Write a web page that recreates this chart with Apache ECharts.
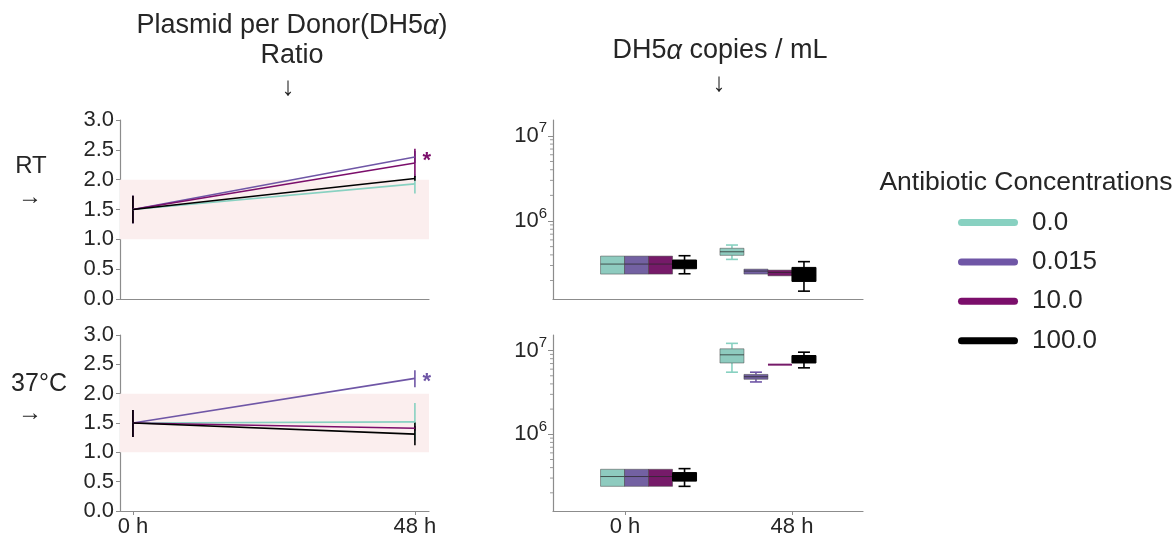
<!DOCTYPE html>
<html><head><meta charset="utf-8">
<script src="https://cdn.jsdelivr.net/npm/echarts@6/dist/echarts.min.js"></script>
<style>html,body{margin:0;padding:0;background:#fff}#c{width:1174px;height:538px}</style>
</head><body><div id="c"></div>
<script>
// ---------- data ----------
const hues = ['0.0', '0.015', '10.0', '100.0'];
const hueColors = ['#88d1c1', '#6f56a6', '#7b0e6b', '#000000'];
const boxFills = ['#8ecbbf', '#7361a2', '#761a69', '#000000'];
const timeHours = [0, 48];
const timeLabels = ['0 h', '48 h'];
const ratioTicks = [0, 0.5, 1, 1.5, 2, 2.5, 3];
const logMajorTicks = [1e6, 1e7];
const logMinorTicks = [2e5, 3e5, 4e5, 5e5, 6e5, 7e5, 8e5, 9e5, 2e6, 3e6, 4e6, 5e6, 6e6, 7e6, 8e6, 9e6];

// ratio means [0 h, 48 h] per hue
const rtMean  = [[1.5, 1.93], [1.5, 2.38], [1.5, 2.28], [1.5, 2.02]];
const rtLow   = [[1.27, 1.77], [1.27, 2.28], [1.27, 2.04], [1.27, 1.98]];
const rtHigh  = [[1.73, 2.09], [1.73, 2.48], [1.73, 2.52], [1.73, 2.06]];
const hotMean = [[1.5, 1.52], [1.5, 2.26], [1.5, 1.41], [1.5, 1.31]];
const hotLow  = [[1.26, 1.20], [1.26, 2.11], [1.26, 1.37], [1.26, 1.12]];
const hotHigh = [[1.72, 1.84], [1.72, 2.40], [1.72, 1.45], [1.72, 1.51]];
const rtStars  = [[48, 2.38, 2]];
const hotStars = [[48, 2.26, 1]];

// copies/mL boxes [min, q1, median, q3, max] per hue
const rtBox0h  = [[2.38e5, 2.38e5, 3.12e5, 3.87e5, 3.87e5], [2.38e5, 2.38e5, 3.12e5, 3.87e5, 3.87e5], [2.38e5, 2.38e5, 3.12e5, 3.87e5, 3.87e5], [2.40e5, 2.75e5, 3.10e5, 3.48e5, 3.91e5]];
const rtBox48h = [[3.54e5, 3.95e5, 4.35e5, 4.78e5, 5.22e5], [2.38e5, 2.38e5, 2.58e5, 2.72e5, 2.72e5], [2.27e5, 2.27e5, 2.49e5, 2.65e5, 2.65e5], [1.50e5, 1.95e5, 2.30e5, 2.85e5, 3.33e5]];
const hotBox0h  = [[2.39e5, 2.39e5, 3.13e5, 3.82e5, 3.82e5], [2.39e5, 2.39e5, 3.13e5, 3.82e5, 3.82e5], [2.39e5, 2.39e5, 3.13e5, 3.82e5, 3.82e5], [2.39e5, 2.76e5, 3.10e5, 3.49e5, 3.89e5]];
const hotBox48h = [[5.52e6, 7.11e6, 8.90e6, 1.05e7, 1.22e7], [4.22e6, 4.54e6, 4.87e6, 5.19e6, 5.52e6], [6.70e6, 6.74e6, 6.79e6, 6.85e6, 6.88e6], [6.22e6, 7.11e6, 7.90e6, 8.73e6, 9.57e6]];

// ---------- layout ----------
const FONT = "'Liberation Sans', Arial, sans-serif";
const TXT = '#262626';
const AX = '#8c8c8c';
const groupShift = [0.141, -0.144];
const slot = 0.1437;

function errRender(color) {
  return function (params, api) {
    const x = api.value(0), lo = api.value(1), hi = api.value(2);
    const p1 = api.coord([x, lo]), p2 = api.coord([x, hi]);
    return { type: 'line', shape: { x1: p1[0], y1: p1[1], x2: p2[0], y2: p2[1] }, style: { stroke: color, lineWidth: 1.6 } };
  };
}
function starRender(params, api) {
  const p = api.coord([api.value(0), api.value(1)]);
  const h = api.value(2);
  return { type: 'text', style: { text: '*', x: p[0] + 12, y: p[1] + 4, fill: hueColors[h], fontSize: 22, fontWeight: 'bold', fontFamily: FONT, align: 'center', verticalAlign: 'middle' } };
}
function minorTickRender(params, api) {
  const y = api.coord([0, api.value(1)])[1];
  const x = params.coordSys.x;
  return { type: 'line', shape: { x1: x - 3, y1: y, x2: x, y2: y }, style: { stroke: '#9a9a9a', lineWidth: 1 } };
}
function boxRender(h) {
  return function (params, api) {
    const cat = api.value(0);
    const mn = api.value(1), q1 = api.value(2), md = api.value(3), q3 = api.value(4), mx = api.value(5);
    const cx = cat + groupShift[cat] + (h - 1.5) * slot;
    const c = api.coord([cx, md]);
    const xl = api.coord([cx - slot / 2, md])[0], xr = api.coord([cx + slot / 2, md])[0];
    const yMin = api.coord([cx, mn])[1], yQ1 = api.coord([cx, q1])[1], yQ3 = api.coord([cx, q3])[1], yMax = api.coord([cx, mx])[1];
    const w = xr - xl, px = c[0];
    const wc = hueColors[h];
    const edge = h === 3 ? '#000' : 'rgba(70,70,70,0.5)';
    const children = [];
    if (yMin - yQ1 > 0.5) {
      children.push({ type: 'line', shape: { x1: px, y1: yQ1, x2: px, y2: yMin }, style: { stroke: wc, lineWidth: 1.6 } });
      children.push({ type: 'line', shape: { x1: px - w / 4, y1: yMin, x2: px + w / 4, y2: yMin }, style: { stroke: wc, lineWidth: 1.6 } });
    }
    if (yQ3 - yMax > 0.5) {
      children.push({ type: 'line', shape: { x1: px, y1: yQ3, x2: px, y2: yMax }, style: { stroke: wc, lineWidth: 1.6 } });
      children.push({ type: 'line', shape: { x1: px - w / 4, y1: yMax, x2: px + w / 4, y2: yMax }, style: { stroke: wc, lineWidth: 1.6 } });
    }
    const bh = yQ1 - yQ3;
    children.push({ type: 'rect', shape: { x: xl, y: bh < 2 ? c[1] - 1 : yQ3, width: w, height: Math.max(bh, 2) }, style: { fill: boxFills[h], stroke: bh < 2 ? null : edge, lineWidth: 1 } });
    if (bh >= 2) {
      children.push({ type: 'line', shape: { x1: xl, y1: c[1], x2: xr, y2: c[1] }, style: { stroke: h === 3 ? '#000' : 'rgba(40,40,40,0.75)', lineWidth: 1 } });
    }
    return { type: 'group', children };
  };
}

const series = [];
function addRatioPanel(gi, mean, low, high, stars) {
  hues.forEach((name, h) => {
    const s = {
      name, type: 'line', xAxisIndex: gi, yAxisIndex: gi, symbol: 'none', silent: true,
      lineStyle: { color: hueColors[h], width: 1.6 }, itemStyle: { color: hueColors[h] },
      data: timeHours.map((t, i) => [t, mean[h][i]])
    };
    if (h === 0) {
      s.markArea = { silent: true, itemStyle: { color: '#fbeeee' }, data: [[{ yAxis: 1 }, { yAxis: 2 }]] };
    }
    series.push(s);
    series.push({
      name, type: 'custom', xAxisIndex: gi, yAxisIndex: gi, silent: true,
      renderItem: errRender(hueColors[h]), itemStyle: { color: hueColors[h] },
      data: timeHours.map((t, i) => [t, low[h][i], high[h][i]])
    });
  });
  series.push({ type: 'custom', xAxisIndex: gi, yAxisIndex: gi, silent: true, renderItem: starRender, data: stars });
}
function addBoxPanel(gi, b0, b48) {
  series.push({
    type: 'custom', xAxisIndex: gi, yAxisIndex: gi, silent: true, renderItem: minorTickRender,
    data: logMinorTicks.map(v => [0, v])
  });
  hues.forEach((name, h) => {
    series.push({
      name, type: 'custom', xAxisIndex: gi, yAxisIndex: gi, silent: true,
      renderItem: boxRender(h), itemStyle: { color: hueColors[h] },
      encode: { x: 0, y: [1, 2, 3, 4, 5] },
      data: [[0].concat(b0[h]), [1].concat(b48[h])]
    });
  });
}
addRatioPanel(0, rtMean, rtLow, rtHigh, rtStars);
addRatioPanel(1, hotMean, hotLow, hotHigh, hotStars);
addBoxPanel(2, rtBox0h, rtBox48h);
addBoxPanel(3, hotBox0h, hotBox48h);

const axLine = { show: true, onZero: false, lineStyle: { color: AX, width: 1.2 } };
const lblStyle = { color: TXT, fontSize: 22, fontFamily: FONT };
function ratioX(gi, labels) {
  return {
    type: 'value', gridIndex: gi, position: 'bottom', min: -2.2, max: 50.4, splitLine: { show: false },
    axisLine: axLine,
    axisTick: labels ? { show: true, customValues: timeHours, length: 4, lineStyle: { color: AX } } : { show: false },
    axisLabel: labels ? Object.assign({ customValues: timeHours, margin: 5, formatter: v => timeLabels[timeHours.indexOf(v)] }, lblStyle) : { show: false }
  };
}
function boxX(gi, labels) {
  return {
    type: 'value', gridIndex: gi, position: 'bottom', min: -0.431, max: 1.425, splitLine: { show: false },
    axisLine: axLine,
    axisTick: labels ? { show: true, customValues: [0, 1], length: 4, lineStyle: { color: AX } } : { show: false },
    axisLabel: labels ? Object.assign({ customValues: [0, 1], margin: 5, formatter: v => timeLabels[v] }, lblStyle) : { show: false }
  };
}
function ratioY(gi) {
  return {
    type: 'value', gridIndex: gi, position: 'left', min: ratioTicks[0], max: ratioTicks[ratioTicks.length - 1], interval: 0.5, splitLine: { show: false },
    axisLine: axLine, axisTick: { show: true, length: 4, lineStyle: { color: AX } },
    axisLabel: Object.assign({ margin: 6, formatter: v => v.toFixed(1) }, lblStyle)
  };
}
const LOGMIN = 1.213e5, LOGMAX = 1.535e7;
function logY(gi) {
  return {
    type: 'log', logBase: 10, gridIndex: gi, position: 'left', min: LOGMIN, max: LOGMAX, splitLine: { show: false },
    axisLine: axLine,
    axisTick: { show: true, customValues: logMajorTicks, length: 5, lineStyle: { color: AX } },
    axisLabel: {
      customValues: logMajorTicks, margin: 6,
      formatter: v => '{b|10}{s|' + Math.round(Math.log10(v)) + '}',
      rich: {
        b: { fontSize: 22, fontFamily: FONT, color: TXT, verticalAlign: 'middle', lineHeight: 30 },
        s: { fontSize: 15, fontFamily: FONT, color: TXT, verticalAlign: 'top', lineHeight: 14 }
      }
    }
  };
}

const capsule = 'path://M3.5,0 L56.5,0 A3.5,3.5 0 0 1 56.5,7 L3.5,7 A3.5,3.5 0 0 1 3.5,0 Z';

function txt(text, x, y, size, extra) {
  return {
    type: 'text', x, y, silent: true,
    style: Object.assign({
      text, fontSize: size, fontFamily: FONT, fill: TXT, align: 'center', verticalAlign: 'middle',
      rich: { i: { fontStyle: 'italic', fontSize: size, fontFamily: FONT, fill: TXT } }
    }, extra || {})
  };
}

const option = {
  backgroundColor: '#fff',
  animation: false,
  grid: [
    { left: 120, top: 120, width: 309, height: 179 },
    { left: 120, top: 335, width: 309, height: 178 },
    { left: 553, top: 120, width: 310, height: 179 },
    { left: 553, top: 335, width: 310, height: 179 }
  ],
  xAxis: [ratioX(0, false), ratioX(1, true), boxX(2, false), boxX(3, true)],
  yAxis: [ratioY(0), ratioY(1), logY(2), logY(3)],
  legend: {
    orient: 'vertical', left: 953, top: 204.5, itemWidth: 60, itemHeight: 7, itemGap: 13.4,
    selectedMode: false,
    textStyle: { fontSize: 26, fontFamily: FONT, color: TXT, lineHeight: 25, padding: [0, 0, 0, 9] },
    data: hues.map((n, h) => ({ name: n, icon: capsule, itemStyle: { color: hueColors[h] } }))
  },
  graphic: [
    txt('Plasmid per Donor(DH5{i|α})', 292, 26, 27),
    txt('Ratio', 292, 56, 27),
    txt('↓', 288, 88, 26),
    txt('DH5{i|α} copies / mL', 720, 51, 27),
    txt('↓', 719, 84, 26),
    txt('RT', 31, 166, 24),
    txt('→', 30, 197, 24),
    txt('37°C', 39, 384, 25),
    txt('→', 30, 413, 24),
    txt('Antibiotic Concentrations', 1026, 183, 26.5)
  ],
  series
};
const chart = echarts.init(document.getElementById('c'), null, { renderer: 'canvas' });
chart.setOption(option);
</script>
</body></html>
